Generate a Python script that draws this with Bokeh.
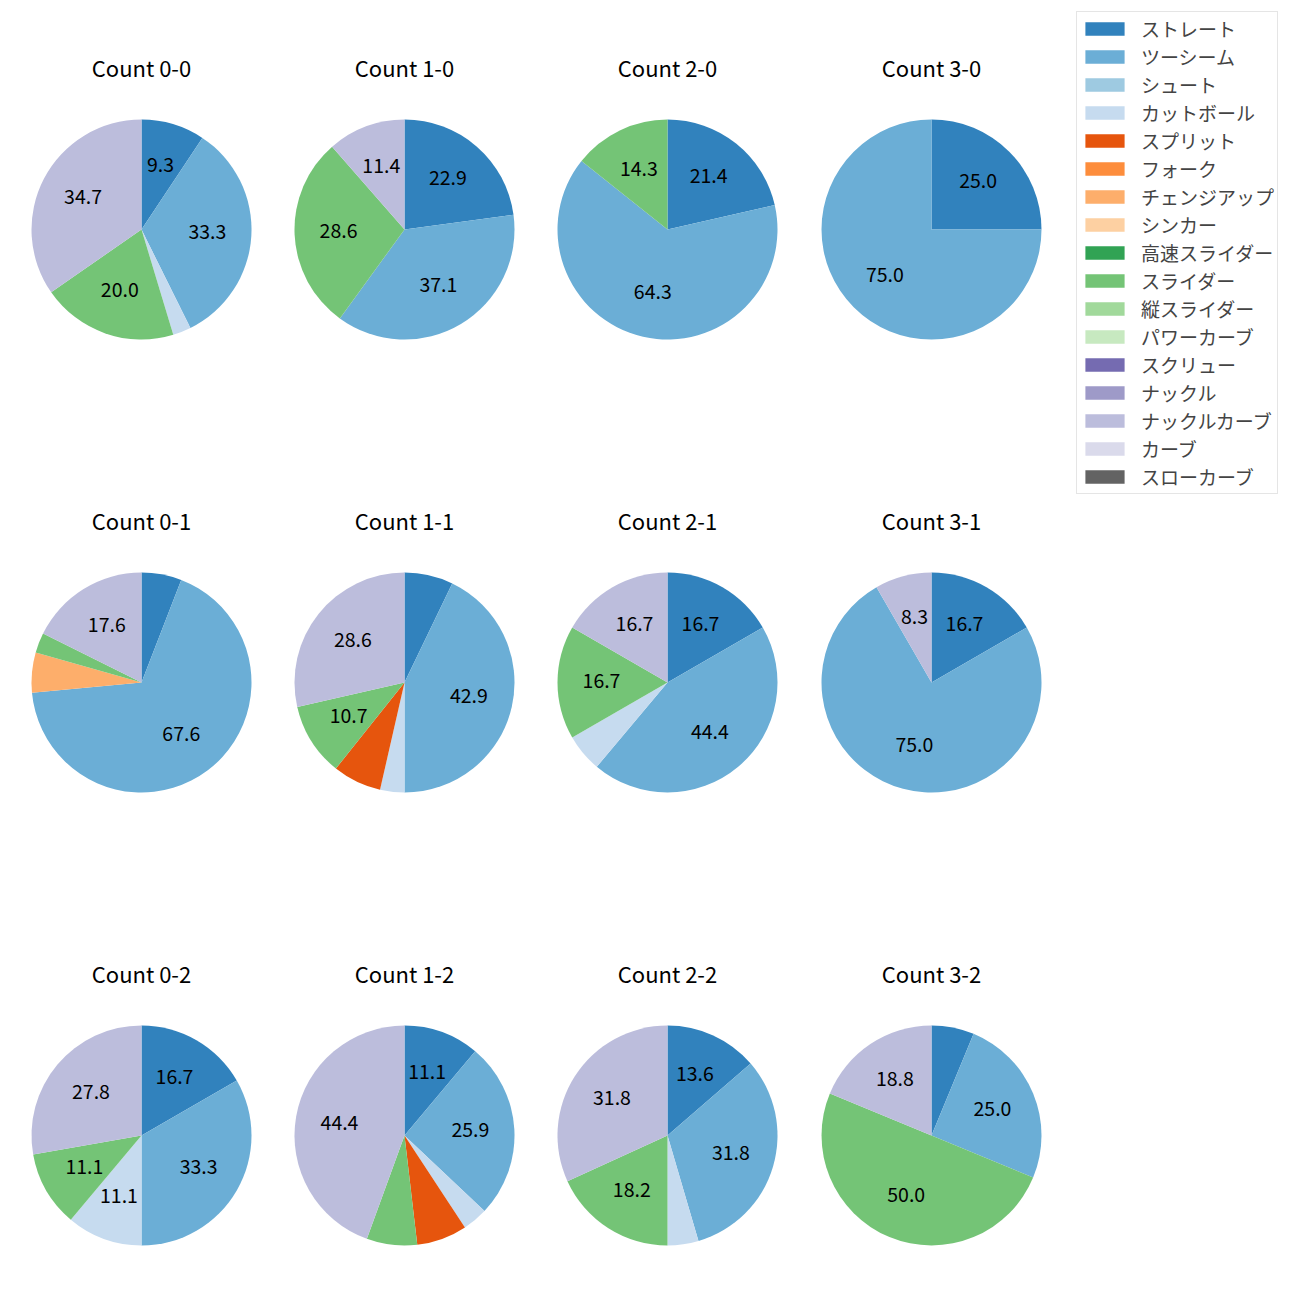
import math
from bokeh.plotting import figure
from bokeh.models import Range1d, ColumnDataSource, Legend, LegendItem
from bokeh.embed import file_html
from bokeh.resources import INLINE
from bokeh.core.properties import value

# ---- data ----
pitch_types = ["ストレート", "ツーシーム", "シュート", "カットボール", "スプリット", "フォーク",
               "チェンジアップ", "シンカー", "高速スライダー", "スライダー", "縦スライダー",
               "パワーカーブ", "スクリュー", "ナックル", "ナックルカーブ", "カーブ", "スローカーブ"]
pitch_colors = ["#3182bd", "#6baed6", "#9ecae1", "#c6dbef", "#e6550d", "#fd8d3c",
                "#fdae6b", "#fdd0a2", "#31a354", "#74c476", "#a1d99b", "#c7e9c0",
                "#756bb1", "#9e9ac8", "#bcbddc", "#dadaeb", "#636363"]

count_labels = ["Count 0-0", "Count 1-0", "Count 2-0", "Count 3-0",
                "Count 0-1", "Count 1-1", "Count 2-1", "Count 3-1",
                "Count 0-2", "Count 1-2", "Count 2-2", "Count 3-2"]

c00 = [7, 25, 0, 2, 0, 0, 0, 0, 0, 15, 0, 0, 0, 0, 26, 0, 0]
c10 = [8, 13, 0, 0, 0, 0, 0, 0, 0, 10, 0, 0, 0, 0, 4, 0, 0]
c20 = [3, 9, 0, 0, 0, 0, 0, 0, 0, 2, 0, 0, 0, 0, 0, 0, 0]
c30 = [1, 3, 0, 0, 0, 0, 0, 0, 0, 0, 0, 0, 0, 0, 0, 0, 0]
c01 = [2, 23, 0, 0, 0, 0, 2, 0, 0, 1, 0, 0, 0, 0, 6, 0, 0]
c11 = [2, 12, 0, 1, 2, 0, 0, 0, 0, 3, 0, 0, 0, 0, 8, 0, 0]
c21 = [3, 8, 0, 1, 0, 0, 0, 0, 0, 3, 0, 0, 0, 0, 3, 0, 0]
c31 = [2, 9, 0, 0, 0, 0, 0, 0, 0, 0, 0, 0, 0, 0, 1, 0, 0]
c02 = [3, 6, 0, 2, 0, 0, 0, 0, 0, 2, 0, 0, 0, 0, 5, 0, 0]
c12 = [3, 7, 0, 1, 2, 0, 0, 0, 0, 2, 0, 0, 0, 0, 12, 0, 0]
c22 = [3, 7, 0, 1, 0, 0, 0, 0, 0, 4, 0, 0, 0, 0, 7, 0, 0]
c32 = [1, 4, 0, 0, 0, 0, 0, 0, 0, 8, 0, 0, 0, 0, 3, 0, 0]
all_counts = [c00, c10, c20, c30, c01, c11, c21, c31, c02, c12, c22, c32]

# ---- layout (pixel positions) ----
col_x = [141, 404, 667, 931]
row_y = [229, 682, 1135]
R = 110
TITLE_OFFSET = 163

W = 1284
p = figure(width=W, height=W, x_range=Range1d(0, W), y_range=Range1d(0, W),
           output_backend="svg", toolbar_location=None, x_axis_type=None, y_axis_type=None,
           min_border=0, min_border_left=0, min_border_right=0, min_border_top=0, min_border_bottom=0)
p.grid.visible = False
p.outline_line_color = None
p.background_fill_color = "white"
p.border_fill_color = "white"

wedge_data = {k: dict(x=[], y=[], s=[], e=[]) for k in range(len(pitch_types))}
lab_x, lab_y, lab_t = [], [], []
tit_x, tit_y = [], []

for i, counts in enumerate(all_counts):
    cx = col_x[i % 4]
    cy = W - row_y[i // 4]
    tit_x.append(cx)
    tit_y.append(cy + TITLE_OFFSET)
    total = sum(counts)
    cum = 0.0
    for k, c in enumerate(counts):
        if c == 0:
            continue
        f0 = cum / total
        f1 = (cum + c) / total
        cum += c
        start = math.radians(90 - 360 * f1)
        end = math.radians(90 - 360 * f0)
        d = wedge_data[k]
        d["x"].append(cx); d["y"].append(cy); d["s"].append(start); d["e"].append(end)
        pct = 100.0 * c / total
        if pct >= 8:
            mid = math.radians(90 - 360 * (f0 + f1) / 2)
            lab_x.append(cx + 0.6 * R * math.cos(mid))
            lab_y.append(cy + 0.6 * R * math.sin(mid))
            lab_t.append(f"{pct:.1f}")

nan = float("nan")
items = []
for k, name in enumerate(pitch_types):
    d = wedge_data[k]
    if not d["x"]:
        # pitch type not thrown in any count: legend-only renderer, nothing drawn
        d = dict(x=[nan], y=[nan], s=[0.0], e=[0.0])
    src = ColumnDataSource(d)
    r = p.wedge(x="x", y="y", radius=R, start_angle="s", end_angle="e", source=src,
                fill_color=pitch_colors[k], line_color=None)
    items.append(LegendItem(label=name, renderers=[r]))

p.text(x=lab_x, y=lab_y, text=lab_t, text_font=value("Noto Sans CJK JP"),
       text_font_size="19.5px", text_align="center", text_baseline="middle", text_color="black",
       y_offset=-2)
p.text(x=tit_x, y=tit_y, text=count_labels, text_font=value("Noto Sans CJK JP"),
       text_font_size="22px", text_align="center", text_baseline="middle", text_color="black")

legend = Legend(items=items, location=(1076, 1284 - 494), orientation="vertical")
legend.label_text_font = "Noto Sans CJK JP"
legend.label_text_font_size = "19px"
legend.glyph_width = 49
legend.glyph_height = 17
legend.label_height = 20
legend.spacing = 1
legend.padding = 3
legend.margin = 0
legend.label_standoff = 12
legend.border_line_color = "#cccccc"
legend.border_line_width = 1
legend.background_fill_color = "white"
legend.background_fill_alpha = 1.0
p.add_layout(legend)

open("out.html", "w").write(file_html(p, INLINE))
